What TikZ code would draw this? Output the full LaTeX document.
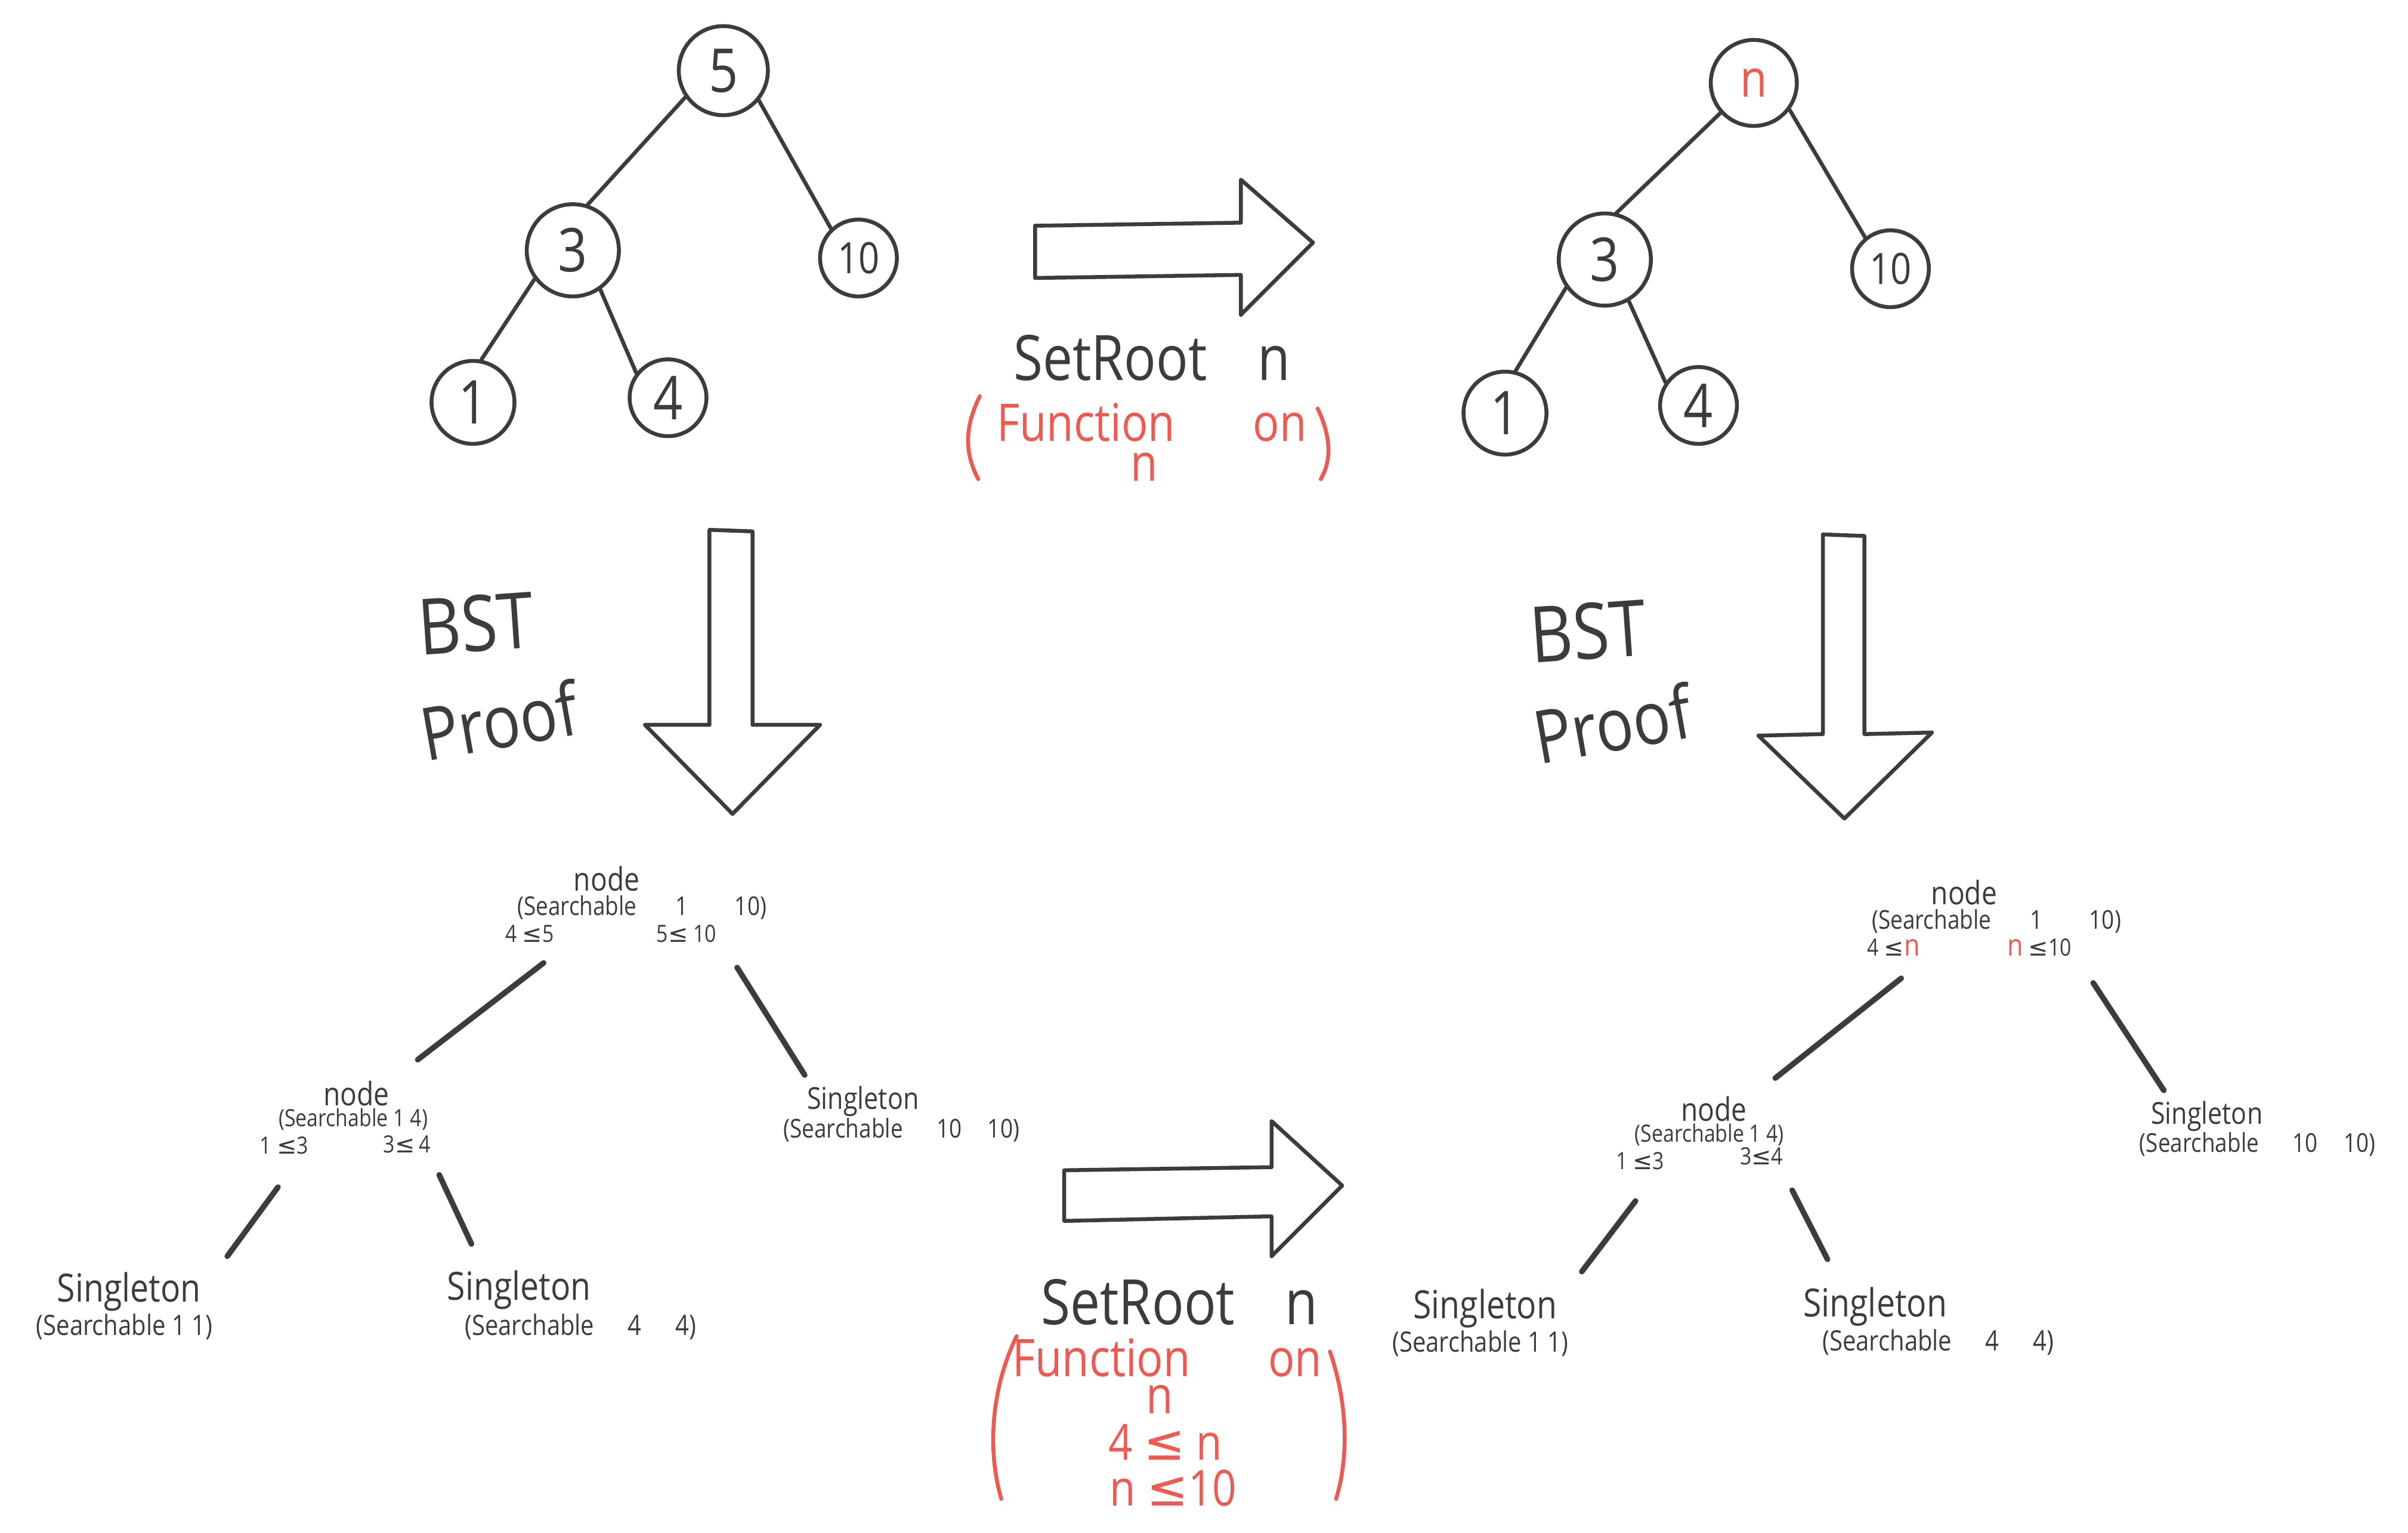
\documentclass[tikz,border=0pt]{standalone}
\usepackage{fontspec}
\setmainfont{Open Sans}
\newfontfamily\hand[FakeStretch=0.85]{Open Sans}
\newfontfamily\symf{DejaVu Sans}
\newcommand\lesym{{\symf ≤}}
\newcommand\fs[2]{\fontsize{#1}{#2}\selectfont}
\definecolor{ink}{HTML}{3C3C3C}
\definecolor{redink}{HTML}{EE5A52}
\begin{document}
\begin{tikzpicture}[x=0.025cm,y=-0.025cm,
  bn/.style={circle,draw=ink,line width=1.8pt,inner sep=0pt,text=ink,font=\hand\fs{28}{30}},
  tl/.style={draw=ink,line width=1.8pt,line cap=round},
  te/.style={draw=ink,line width=2.6pt,line cap=round},
  blk/.style={draw=ink,line width=1.8pt,line join=round,fill=white},
  tx/.style={text=ink,inner sep=0pt},
  rx/.style={text=redink,inner sep=0pt},
  rp/.style={draw=redink,line width=1.8pt,line cap=round}]
\useasboundingbox[fill=white] (0,0) rectangle (1568,998);

% ---------- top-left tree ----------
\node[bn,minimum size=1.45cm] (a5) at (471,46) {5};
\node[bn,minimum size=1.5cm] (a3) at (373,163) {3};
\node[bn,minimum size=1.25cm,font=\hand\fs{20}{22}] (a10) at (559,168) {10};
\node[bn,minimum size=1.35cm] (a1) at (308,262) {1};
\node[bn,minimum size=1.25cm] (a4) at (435,259) {4};
\draw[tl] (a5.215) -- (a3.72);
\draw[tl] (a5.320) -- (a10.133);
\draw[tl] (a3.217) -- (a1.79);
\draw[tl] (a3.305) -- (a4.142);

% ---------- top-right tree ----------
\node[bn,minimum size=1.4cm,text=redink,font=\hand\fs{24}{26}] (bn) at (1142,54) {n};
\node[bn,minimum size=1.5cm] (b3) at (1045,169) {3};
\node[bn,minimum size=1.25cm,font=\hand\fs{20}{22}] (b10) at (1231,175) {10};
\node[bn,minimum size=1.35cm] (b1) at (980,269) {1};
\node[bn,minimum size=1.25cm] (b4) at (1106,264) {4};
\draw[tl] (bn.222) -- (b3.76);
\draw[tl] (bn.323) -- (b10.129);
\draw[tl] (b3.216) -- (b1.76);
\draw[tl] (b3.300) -- (b4.145);

% ---------- block arrows ----------
\draw[blk] (674,147) -- (808,145) -- (808,117) -- (855,158) -- (808,205) -- (808,179) -- (674,181) -- cycle;
\draw[blk] (693,762) -- (828,760) -- (828,730) -- (874,772) -- (828,818) -- (828,792) -- (693,795) -- cycle;
\draw[blk] (462,345) -- (490,346) -- (490,472) -- (534,472) -- (477,530) -- (420,472) -- (462,472) -- cycle;
\draw[blk] (1187,348) -- (1214,349) -- (1214,478) -- (1258,477) -- (1201,533) -- (1145,479) -- (1187,478) -- cycle;

% ---------- SetRoot labels ----------
\node[tx,font=\hand\fs{29}{31}] (sr1) at (750,233) {SetRoot\hspace{0.8em}n};
\node[rx,font=\hand\fs{24}{26}] (fn1) at (750,275) {Function\hspace{1.5em}on};
\node[rx,font=\hand\fs{24}{26}] (fn1b) at (745,304) {n};
\draw[rp] (638,258) .. controls (628,278) and (628,295) .. (637,312);
\draw[rp] (858,266) .. controls (867,285) and (867,300) .. (860,312);

\node[tx,font=\hand\fs{29}{31}] (sr2) at (768,848) {SetRoot\hspace{0.8em}n};
\node[rx,font=\hand\fs{24}{26}] (fn2) at (760,884) {Function\hspace{1.5em}on};
\node[rx,font=\hand\fs{24}{26}] (fn2b) at (755,911) {n};
\node[rx,font=\hand\fs{23}{25}] (fn2c) at (759,939) {4 \lesym\ n};
\node[rx,font=\hand\fs{23}{25}] (fn2d) at (764,969) {n \lesym10};
\draw[rp] (662,870) .. controls (645,905) and (643,945) .. (652,976);
\draw[rp] (866,880) .. controls (878,915) and (878,950) .. (870,976);

% ---------- BST Proof labels ----------
\node[tx,font=\hand\fs{36}{38},rotate=4] (bst1) at (310,406) {BST};
\node[tx,font=\hand\fs{34}{36},rotate=10] (pf1) at (325,469) {Proof};
\node[tx,font=\hand\fs{36}{38},rotate=4] (bst2) at (1034,411) {BST};
\node[tx,font=\hand\fs{34}{36},rotate=10] (pf2) at (1050,471) {Proof};

% ---------- bottom-left proof tree ----------
\node[tx,font=\hand\fs{15}{16}] (r1n) at (395,572) {node};
\node[tx,font=\hand\fs{12}{13}] (r1s) at (418,591) {(Searchable\hspace{1.5em}1\hspace{1.8em}10)};
\node[tx,font=\hand\fs{11}{12}] (r1l) at (345,608) {4 \lesym5};
\node[tx,font=\hand\fs{11}{12}] (r1r) at (447,608) {5\lesym\ 10};
\node[tx,font=\hand\fs{15}{16}] (l1n) at (232,712) {node};
\node[tx,font=\hand\fs{11}{12}] (l1s) at (230,729) {(Searchable 1 4)};
\node[tx,font=\hand\fs{11}{12}] (l1l) at (185,746) {1 \lesym3};
\node[tx,font=\hand\fs{11}{12}] (l1r) at (265,745) {3\lesym\,4};
\node[tx,font=\hand\fs{14}{15}] (rc1a) at (562,717) {Singleton};
\node[tx,font=\hand\fs{12}{13}] (rc1b) at (587,736) {(Searchable\hspace{1.3em}10\hspace{1em}10)};
\node[tx,font=\hand\fs{18}{19}] (lf1a) at (84,841) {Singleton};
\node[tx,font=\hand\fs{13}{14}] (lf1b) at (81,864) {(Searchable 1 1)};
\node[tx,font=\hand\fs{18}{19}] (lf2a) at (338,840) {Singleton};
\node[tx,font=\hand\fs{13}{14}] (lf2b) at (378,864) {(Searchable\hspace{1.2em}4\hspace{1.2em}4)};
\coordinate (e1a) at (354,627); \coordinate (e1b) at (272,690);
\coordinate (e2a) at (480,630); \coordinate (e2b) at (524,700);
\coordinate (e3a) at (181,773); \coordinate (e3b) at (148,818);
\coordinate (e4a) at (286,765); \coordinate (e4b) at (307,810);
\draw[te] (e1a) -- (e1b);
\draw[te] (e2a) -- (e2b);
\draw[te] (e3a) -- (e3b);
\draw[te] (e4a) -- (e4b);

% ---------- bottom-right proof tree ----------
\node[tx,font=\hand\fs{15}{16}] (r2n) at (1279,581) {node};
\node[tx,font=\hand\fs{12}{13}] (r2s) at (1300,600) {(Searchable\hspace{1.5em}1\hspace{1.8em}10)};
\node[tx,font=\hand\fs{11}{12}] (r2l) at (1233,617) {4 \lesym\textcolor{redink}{\fs{14}{15}n}};
\node[tx,font=\hand\fs{11}{12}] (r2r) at (1328,617) {\textcolor{redink}{\fs{14}{15}n} \lesym10};
\node[tx,font=\hand\fs{15}{16}] (l2n) at (1116,722) {node};
\node[tx,font=\hand\fs{11}{12}] (l2s) at (1113,739) {(Searchable 1 4)};
\node[tx,font=\hand\fs{11}{12}] (l2l) at (1068,756) {1 \lesym3};
\node[tx,font=\hand\fs{11}{12}] (l2r) at (1147,753) {3\lesym4};
\node[tx,font=\hand\fs{14}{15}] (rc2a) at (1437,727) {Singleton};
\node[tx,font=\hand\fs{12}{13}] (rc2b) at (1470,745) {(Searchable\hspace{1.3em}10\hspace{1em}10)};
\node[tx,font=\hand\fs{18}{19}] (lf3a) at (967,852) {Singleton};
\node[tx,font=\hand\fs{13}{14}] (lf3b) at (964,875) {(Searchable 1 1)};
\node[tx,font=\hand\fs{18}{19}] (lf4a) at (1221,851) {Singleton};
\node[tx,font=\hand\fs{13}{14}] (lf4b) at (1262,874) {(Searchable\hspace{1.2em}4\hspace{1.2em}4)};
\coordinate (f1a) at (1238,637); \coordinate (f1b) at (1156,702);
\coordinate (f2a) at (1363,640); \coordinate (f2b) at (1409,710);
\coordinate (f3a) at (1065,782); \coordinate (f3b) at (1030,828);
\coordinate (f4a) at (1167,775); \coordinate (f4b) at (1190,820);
\draw[te] (f1a) -- (f1b);
\draw[te] (f2a) -- (f2b);
\draw[te] (f3a) -- (f3b);
\draw[te] (f4a) -- (f4b);
\end{tikzpicture}
\end{document}
